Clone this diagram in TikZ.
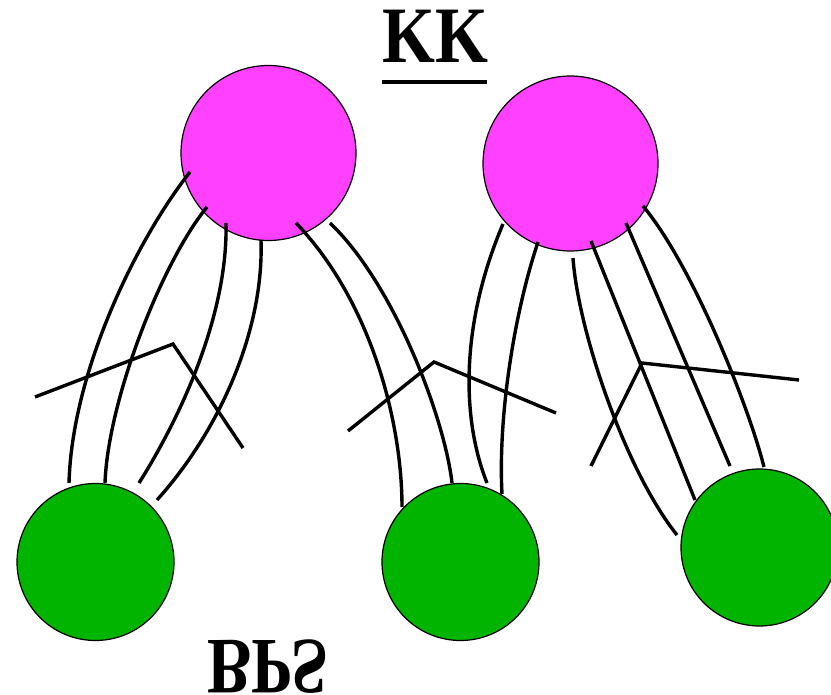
\documentclass[tikz,border=0pt]{standalone}
\usepackage{fontspec}
\usepackage{graphicx}
\setmainfont{Liberation Serif}
\definecolor{kkpink}{RGB}{255,64,255}
\definecolor{bpsgreen}{RGB}{0,180,0}
\tikzset{
  kkball/.style={circle, draw=black, line width=1.2pt, fill=kkpink, minimum size=175pt, inner sep=0pt},
  bpsball/.style={circle, draw=black, line width=1.2pt, fill=bpsgreen, minimum size=157pt, inner sep=0pt},
  string/.style={draw=black, line width=3.4pt},
  kink/.style={draw=black, line width=3.4pt},
  bigtext/.style={font=\bfseries\fontsize{80}{80}\selectfont, inner sep=0pt}
}
\begin{document}
\begin{tikzpicture}[x=1pt, y=-1pt]
\clip (0,0) rectangle (831,695);

% branes
\node[kkball] (kk1) at (268.5,153) {};
\node[kkball] (kk2) at (570.5,163.5) {};
\node[bpsball] (bps1) at (95.5,562) {};
\node[bpsball] (bps2) at (460.5,562) {};
\node[bpsball] (bps3) at (759.5,547.5) {};

% string end points
\coordinate (a1) at (190,172);  \coordinate (b1) at (69,483);
\coordinate (a2) at (207,207);  \coordinate (b2) at (105,483);
\coordinate (a3) at (226,223);  \coordinate (b3) at (139,483);
\coordinate (a4) at (261,240);  \coordinate (b4) at (157,500);
\coordinate (a5) at (296,223);  \coordinate (b5) at (402,507);
\coordinate (a6) at (330,223);  \coordinate (b6) at (452,483);
\coordinate (a7) at (503,224);  \coordinate (b7) at (487,483);
\coordinate (a8) at (538,242);  \coordinate (b8) at (502,494);
\coordinate (a9) at (573,258);  \coordinate (b9) at (677,535);
\coordinate (a10) at (591,241); \coordinate (b10) at (695,500);
\coordinate (a11) at (626,223); \coordinate (b11) at (730,466);
\coordinate (a12) at (643,206); \coordinate (b12) at (764,467);

% strings
\draw[string] (a1) .. controls (135,242) and (72,373) .. (b1);
\draw[string] (a2) .. controls (162,262) and (108,400) .. (b2);
\draw[string] (a3) .. controls (228,310) and (185,410) .. (b3);
\draw[string] (a4) .. controls (264,330) and (220,430) .. (b4);
\draw[string] (a5) .. controls (370,300) and (402,420) .. (b5);
\draw[string] (a6) .. controls (395,285) and (445,420) .. (b6);
\draw[string] (a7) .. controls (462,320) and (460,415) .. (b7);
\draw[string] (a8) .. controls (513,317) and (498,420) .. (b8);
\draw[string] (a9) .. controls (578,330) and (625,470) .. (b9);
\draw[string] (a10) -- (b10);
\draw[string] (a11) -- (b11);
\draw[string] (a12) .. controls (693,266) and (749,407) .. (b12);

% kinks
\coordinate (k1a) at (35,397);  \coordinate (k1b) at (173,344); \coordinate (k1c) at (243,448);
\coordinate (k2a) at (348,431); \coordinate (k2b) at (434,362); \coordinate (k2c) at (556,413);
\coordinate (k3a) at (591,466); \coordinate (k3b) at (642,363); \coordinate (k3c) at (799,380);
\draw[kink] (k1a) -- (k1b) -- (k1c);
\draw[kink] (k2a) -- (k2b) -- (k2c);
\draw[kink] (k3a) -- (k3b) -- (k3c);

% labels
\node[bigtext, anchor=base] (kklabel) at (435,63) {\scalebox{0.85}[1]{KK}};
\coordinate (ula) at (382,82); \coordinate (ulb) at (487,82);
\draw[line width=4pt] (ula) -- (ulb);
\node[bigtext, anchor=base] (bpslabel) at (268,640) {\scalebox{0.83}[-1]{BPS}};
\end{tikzpicture}
\end{document}
